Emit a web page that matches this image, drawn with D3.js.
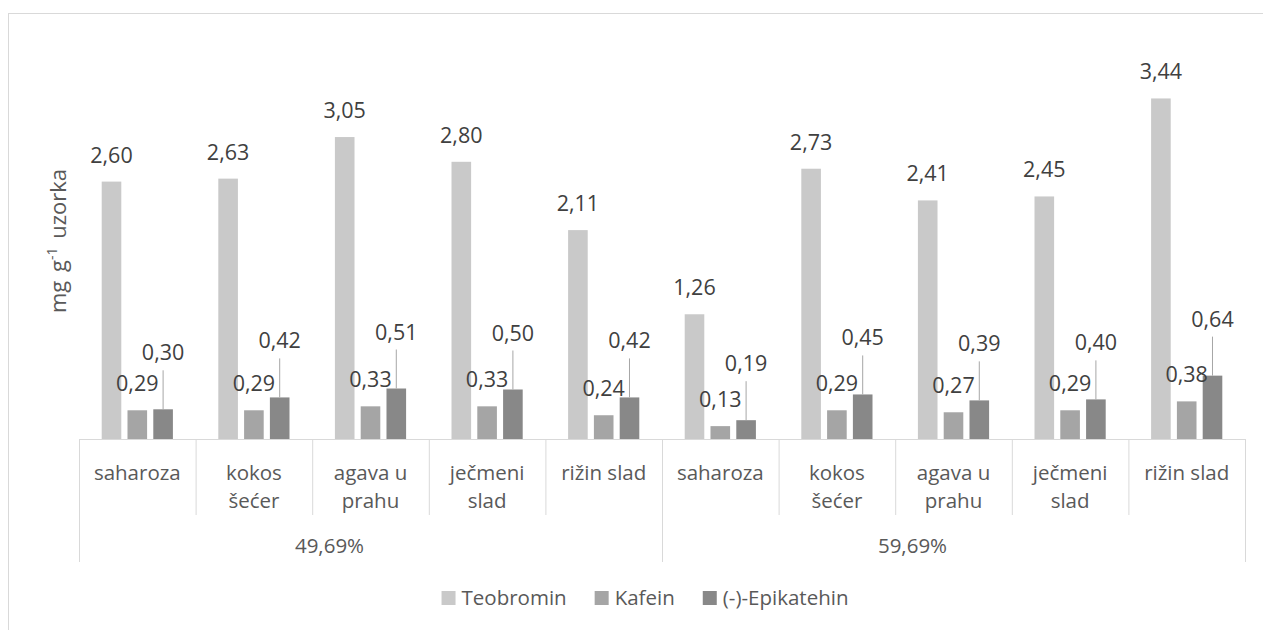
<!DOCTYPE html>
<html>
<head>
<meta charset="utf-8">
<script src="https://cdn.jsdelivr.net/npm/d3@7"></script>
<style>
  body { margin: 0; background: #fff; }
  svg { font-family: "Open Sans", sans-serif; }
  .val { fill: #404040; font-size: 21.5px; }
  .cat { fill: #595959; font-size: 20.5px; }
  .leg { fill: #595959; font-size: 20.5px; }
  .ytitle { fill: #595959; font-size: 22px; word-spacing: 3px; }
</style>
</head>
<body>
<div id="chart"></div>
<script>
const groups = ['49,69%', '59,69%'];
const products = ['saharoza', 'kokos šećer', 'agava u prahu', 'ječmeni slad', 'rižin slad'];
const seriesNames = ['Teobromin', 'Kafein', '(-)-Epikatehin'];
const teobromin = [2.60, 2.63, 3.05, 2.80, 2.11, 1.26, 2.73, 2.41, 2.45, 3.44];
const kafein = [0.29, 0.29, 0.33, 0.33, 0.24, 0.13, 0.29, 0.27, 0.29, 0.38];
const epikatehin = [0.30, 0.42, 0.51, 0.50, 0.42, 0.19, 0.45, 0.39, 0.40, 0.64];
const colors = ['#c9c9c9', '#a5a5a5', '#888888'];

const width = 1263, height = 630;
const margin = { top: 43, left: 79, right: 18, bottom: 191 };
const baseY = height - margin.bottom;

const fmt = d3.formatLocale({ decimal: ',', thousands: '.', grouping: [3], currency: ['', ''] }).format('.2f');

// one row per bar cluster
const rows = [];
groups.forEach((g, gi) => products.forEach((p, pi) => {
  const i = gi * products.length + pi;
  rows.push({ key: i, group: g, product: p, values: [teobromin[i], kafein[i], epikatehin[i]] });
}));

const svg = d3.select('#chart').append('svg').attr('width', width).attr('height', height);

// chart frame
svg.append('rect').attr('x', 8.5).attr('y', 13.5).attr('width', width + 20).attr('height', height + 20)
  .attr('fill', 'none').attr('stroke', '#d9d9d9');

const x0 = d3.scaleBand().domain(rows.map(d => d.key)).range([margin.left, width - margin.right]);
const x1 = d3.scaleBand().domain(seriesNames).range([0, x0.bandwidth()]).paddingInner(0.24).paddingOuter(0.88);
const y = d3.scaleLinear().domain([0, 4]).range([baseY, margin.top]);

const cluster = svg.selectAll('.cluster').data(rows).enter().append('g')
  .attr('class', 'cluster')
  .attr('transform', d => `translate(${x0(d.key)},0)`);

const bars = cluster.selectAll('.bar').data(d => d.values.map((v, si) => ({ v, si }))).enter();

bars.append('rect')
  .attr('class', 'bar')
  .attr('x', d => x1(seriesNames[d.si]))
  .attr('y', d => y(d.v))
  .attr('width', x1.bandwidth())
  .attr('height', d => y(0) - y(d.v))
  .attr('fill', d => colors[d.si]);

// value labels; the Epikatehin labels sit higher with a leader line
const lift = 49;
bars.filter(d => d.si === 2).append('line')
  .attr('x1', d => x1(seriesNames[2]) + x1.bandwidth() / 2)
  .attr('x2', d => x1(seriesNames[2]) + x1.bandwidth() / 2)
  .attr('y1', d => y(d.v) - lift + 10)
  .attr('y2', d => y(d.v))
  .attr('stroke', '#a6a6a6').attr('stroke-width', 1);

bars.append('text')
  .attr('class', 'val')
  .attr('x', d => x1(seriesNames[d.si]) + x1.bandwidth() / 2)
  .attr('y', d => y(d.v) - (d.si === 2 ? lift : 19))
  .attr('text-anchor', 'middle')
  .text(d => fmt(d.v));

// axis line
const axisColor = '#d9d9d9';
svg.append('line').attr('x1', margin.left).attr('x2', width - margin.right)
  .attr('y1', baseY + 0.5).attr('y2', baseY + 0.5).attr('stroke', axisColor);

// category separators
const sepY1 = 515, sepY2 = 562;
rows.concat([{ key: 'end' }]).forEach((d, i) => {
  const xs = (d.key === 'end' ? width - margin.right : x0(d.key)) + 0.5;
  const long = i % products.length === 0;
  svg.append('line').attr('x1', xs).attr('x2', xs).attr('y1', baseY).attr('y2', long ? sepY2 : sepY1)
    .attr('stroke', axisColor);
});

// category labels with word wrap
function wrapWords(str, maxW, probe) {
  const words = str.split(' ');
  const lines = [];
  let cur = '';
  words.forEach(w => {
    const test = cur ? cur + ' ' + w : w;
    probe.text(test);
    if (cur && probe.node().getComputedTextLength() > maxW) { lines.push(cur); cur = w; }
    else cur = test;
  });
  lines.push(cur);
  return lines;
}
const probe = svg.append('text').attr('class', 'cat').attr('visibility', 'hidden');
rows.forEach(d => {
  const lines = wrapWords(d.product, 90, probe);
  const t = svg.append('text').attr('class', 'cat').attr('text-anchor', 'middle')
    .attr('x', x0(d.key) + x0.bandwidth() / 2).attr('y', 480);
  lines.forEach((l, li) => t.append('tspan').attr('x', x0(d.key) + x0.bandwidth() / 2).attr('dy', li ? 28 : 0).text(l));
});
probe.remove();

// group labels
groups.forEach((g, gi) => {
  const first = x0(gi * products.length);
  const last = x0(gi * products.length + products.length - 1) + x0.bandwidth();
  svg.append('text').attr('class', 'cat').attr('text-anchor', 'middle')
    .attr('x', (first + last) / 2 - 41).attr('y', 553).text(g);
});

// y axis title
const yt = svg.append('text').attr('class', 'ytitle')
  .attr('transform', `translate(66,${(margin.top + baseY) / 2}) rotate(-90)`)
  .attr('text-anchor', 'middle');
yt.append('tspan').text('mg g');
yt.append('tspan').style('font-size', '14px').attr('dy', -9).text('-1');
yt.append('tspan').attr('dy', 9).text(' uzorka');

// legend
const legend = svg.append('g');
let lx = 0;
seriesNames.forEach((s, si) => {
  const item = legend.append('g').attr('transform', `translate(${lx},0)`);
  item.append('rect').attr('x', 0).attr('y', 591).attr('width', 14).attr('height', 14).attr('fill', colors[si]);
  const t = item.append('text').attr('class', 'leg').attr('x', 20).attr('y', 605).text(s);
  lx += 20 + t.node().getComputedTextLength() + 28;
});
const legW = lx - 28;
legend.attr('transform', `translate(${645 - legW / 2},0)`);
</script>
</body>
</html>
